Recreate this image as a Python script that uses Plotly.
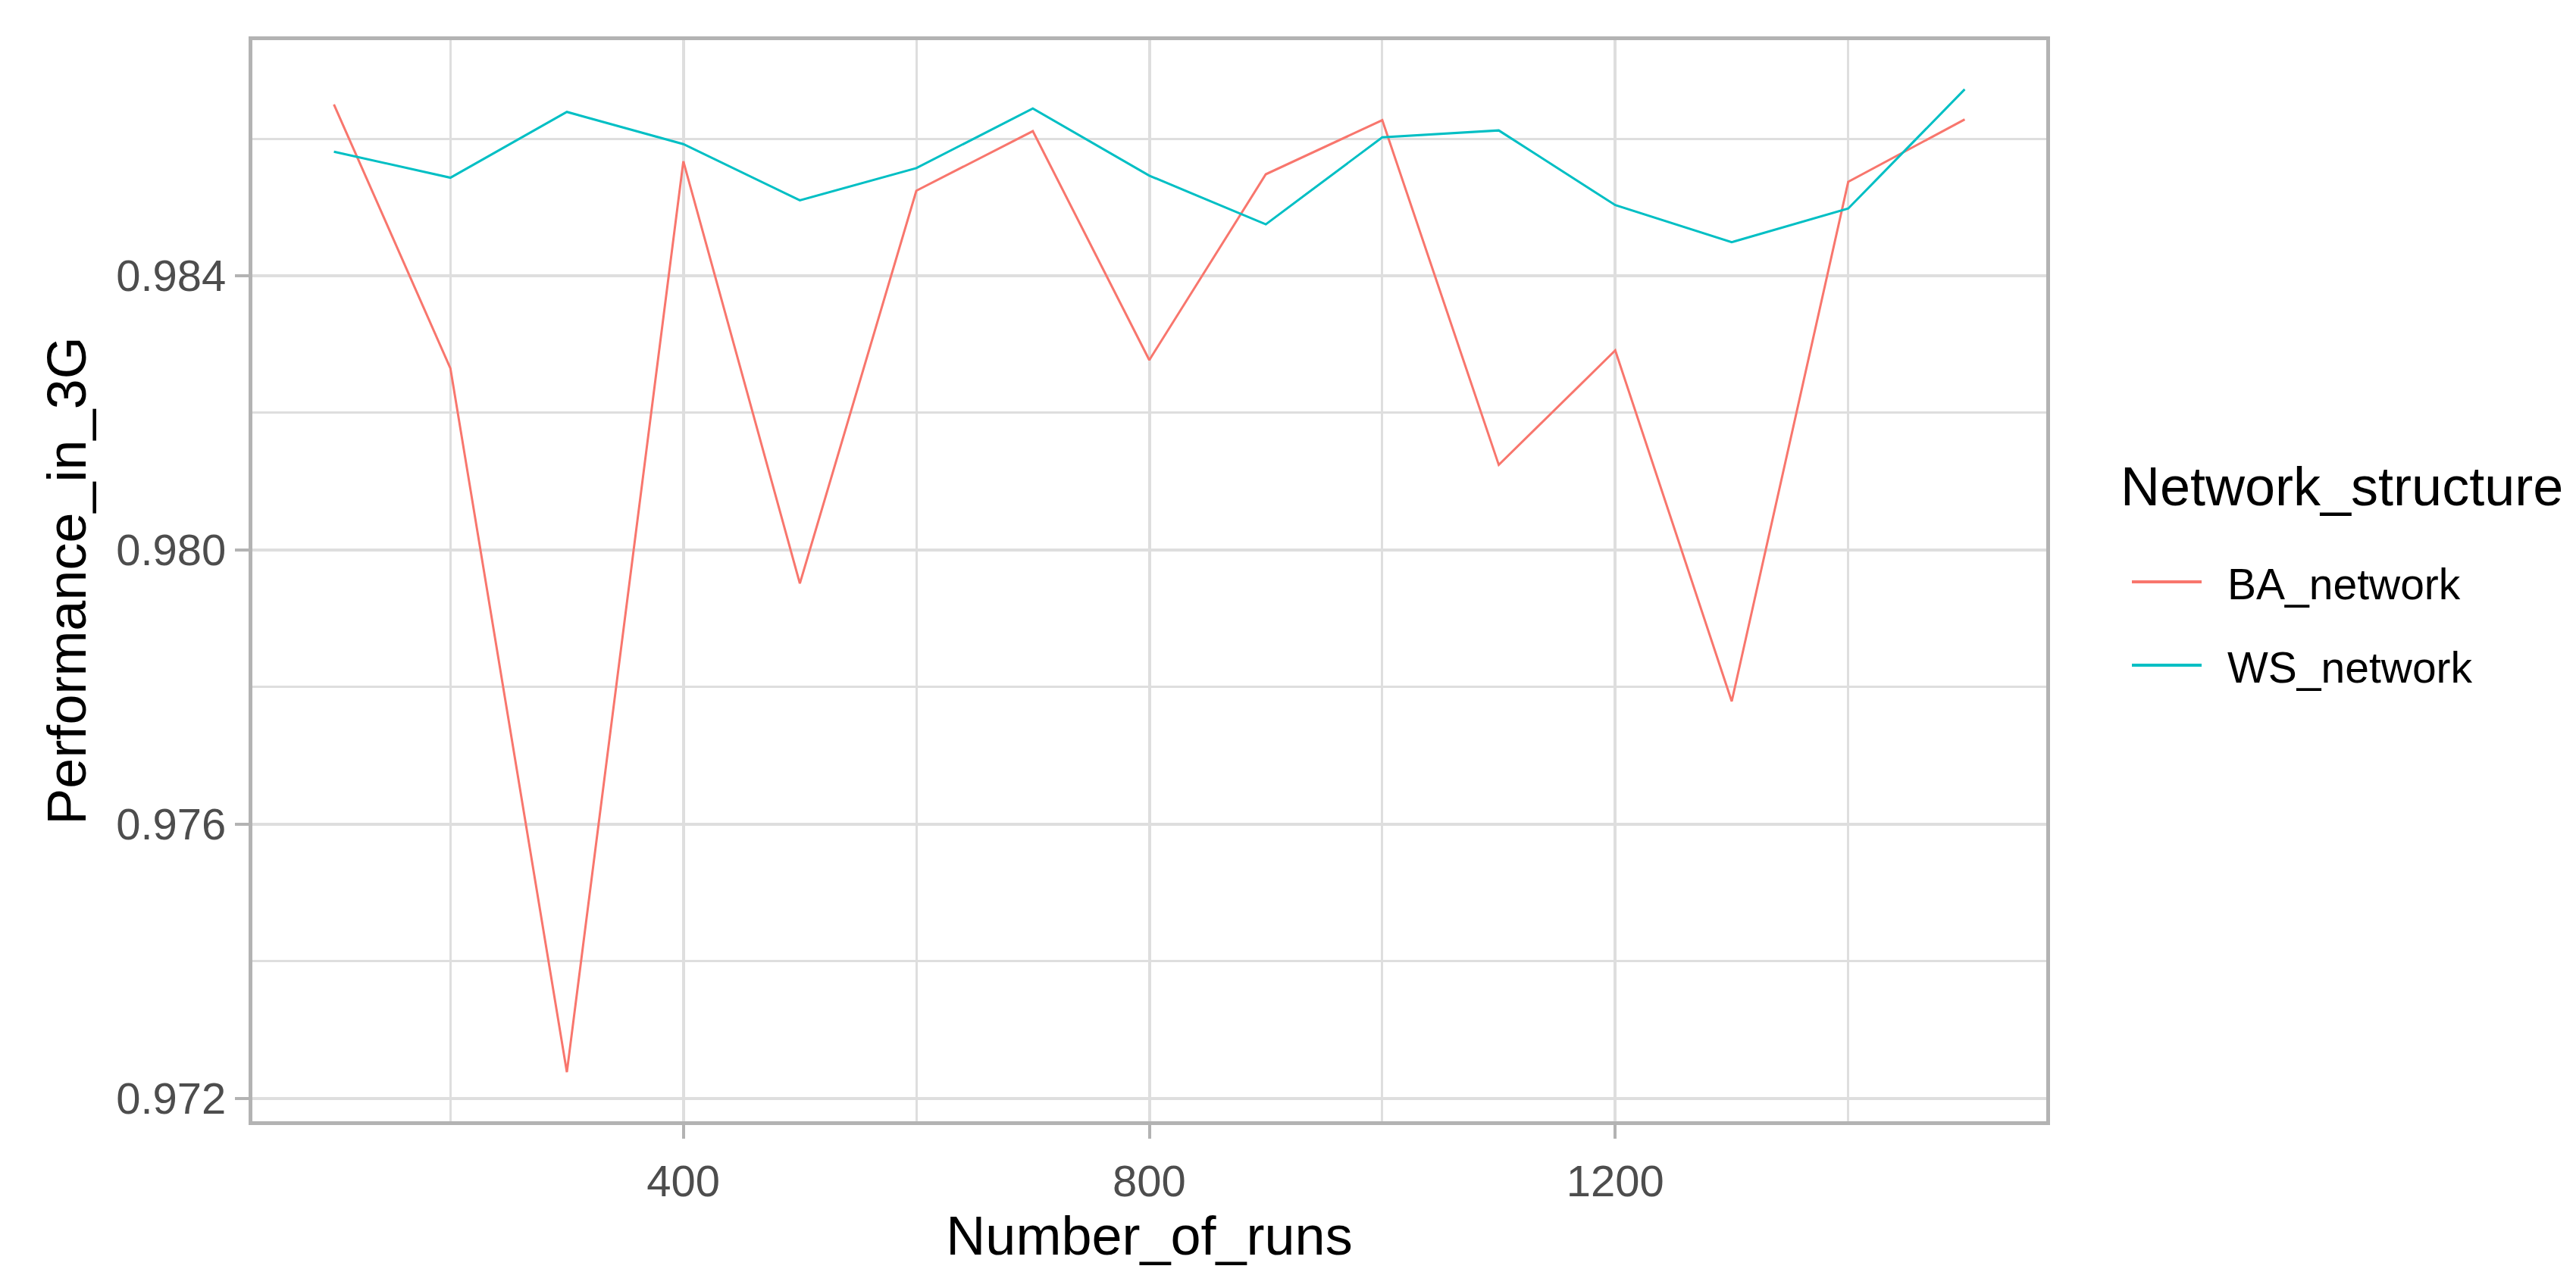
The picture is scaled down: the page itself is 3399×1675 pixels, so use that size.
import plotly.graph_objects as go

# Number_of_runs on the x axis
runs = [100, 200, 300, 400, 500, 600, 700, 800, 900, 1000, 1100, 1200, 1300, 1400, 1500]

# Performance_in_3G per network structure
ba_network = [0.98650, 0.98265, 0.97238, 0.98567, 0.97951, 0.98524, 0.98611, 0.98277,
              0.98548, 0.98627, 0.98124, 0.98291, 0.97779, 0.98537, 0.98628]
ws_network = [0.98581, 0.98543, 0.98639, 0.98592, 0.98510, 0.98557, 0.98644, 0.98546,
              0.98475, 0.98602, 0.98612, 0.98503, 0.98449, 0.98498, 0.98672]

series_names = ["BA_network", "WS_network"]
series_colors = ["#F8766D", "#00BFC4"]
legend_title = "Network_structure"

FONT = "Liberation Sans, Arial, sans-serif"

# panel box in pixels (ggplot layout of the original)
W, H = 3399, 1675
PANEL_L, PANEL_R, PANEL_T, PANEL_B = 325, 2692, 45, 1472


def padded_range(values, frac=0.05):
    """ggplot style 5% expansion on each side"""
    lo, hi = min(values), max(values)
    pad = (hi - lo) * frac
    return [lo - pad, hi + pad]


def px_to_paper(x=None, y=None):
    """pixel position -> paper coords relative to the panel"""
    if x is not None:
        return (x - PANEL_L) / (PANEL_R - PANEL_L)
    return (PANEL_B - y) / (PANEL_B - PANEL_T)


fig = go.Figure()
for name, color, ys in zip(series_names, series_colors, [ba_network, ws_network]):
    fig.add_trace(go.Scatter(
        x=runs, y=ys, mode="lines", name=name, showlegend=False,
        line=dict(color=color, width=3)))

grid_major = dict(showgrid=True, gridcolor="#DEDEDE", gridwidth=4)
tick_style = dict(ticks="outside", ticklen=18, tickwidth=4, tickcolor="#B3B3B3",
                  tickfont=dict(family=FONT, size=58, color="#4D4D4D"))
frame = dict(showline=True, linecolor="#B3B3B3", linewidth=5, mirror=True, zeroline=False)

fig.update_xaxes(
    range=padded_range(runs),
    tick0=0, dtick=400, ticklabelstandoff=6,
    minor=dict(tick0=0, dtick=200, showgrid=True, gridcolor="#DEDEDE", gridwidth=3),
    title=dict(text="Number_of_runs", font=dict(family=FONT, size=72, color="black"), standoff=6),
    **tick_style, **frame, **grid_major)

fig.update_yaxes(
    range=padded_range(ba_network + ws_network),
    tick0=0.972, dtick=0.004, tickformat=".3f",
    minor=dict(tick0=0.972, dtick=0.002, showgrid=True, gridcolor="#DEDEDE", gridwidth=3),
    title=dict(text="Performance_in_3G", font=dict(family=FONT, size=72, color="black"), standoff=18),
    **tick_style, **frame, **grid_major)

# ggplot style legend drawn next to the panel
annotations = [dict(
    text=legend_title, xref="paper", yref="paper",
    x=px_to_paper(x=2788), y=px_to_paper(y=634), xanchor="left", yanchor="middle",
    showarrow=False, font=dict(family=FONT, size=72, color="black"))]
shapes = []
for i, (name, color) in enumerate(zip(series_names, series_colors)):
    row_y = 760 + i * 110
    annotations.append(dict(
        text=name, xref="paper", yref="paper",
        x=px_to_paper(x=2929), y=px_to_paper(y=row_y + 3), xanchor="left", yanchor="middle",
        showarrow=False, font=dict(family=FONT, size=57, color="black")))
    shapes.append(dict(
        type="line", xref="paper", yref="paper",
        x0=px_to_paper(x=2805), x1=px_to_paper(x=2897),
        y0=px_to_paper(y=row_y), y1=px_to_paper(y=row_y),
        line=dict(color=color, width=4)))

fig.update_layout(
    width=W, height=H,
    margin=dict(l=PANEL_L, r=W - PANEL_R, t=PANEL_T, b=H - PANEL_B),
    plot_bgcolor="white", paper_bgcolor="white",
    font=dict(family=FONT),
    showlegend=False,
    annotations=annotations, shapes=shapes,
)

fig.write_html("out.html")
